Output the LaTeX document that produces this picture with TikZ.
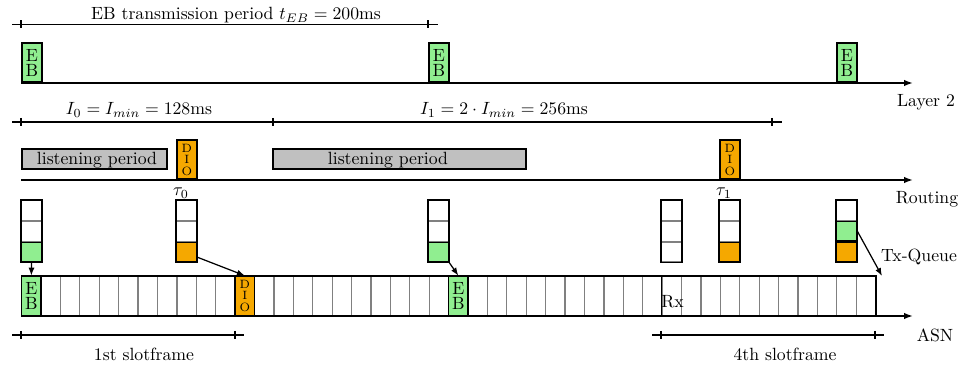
\documentclass[tikz,border=0pt]{standalone}
\usetikzlibrary{arrows.meta,calc}
\definecolor{ebgreen}{RGB}{144,238,144}
\definecolor{dioorange}{RGB}{245,168,0}
\definecolor{lpgray}{RGB}{192,192,192}
\begin{document}
\begin{tikzpicture}[x=0.565pt,y=-0.565pt,
  axis/.style={line width=0.9pt,-{Latex[length=5pt,width=3.6pt]}},
  dimline/.style={line width=0.9pt},
  ebbox/.style={draw,line width=0.9pt,fill=ebgreen,minimum width=11.3pt,minimum height=22pt,
    inner sep=0pt,align=center,font=\fontsize{10}{8.5}\selectfont},
  diobox/.style={draw,line width=0.9pt,fill=dioorange,minimum width=11.3pt,minimum height=22pt,
    inner sep=0pt,align=center,font=\fontsize{6.8}{6.6}\selectfont},
  lpbox/.style={draw,line width=0.6pt,fill=lpgray},
  qcell/.style={draw=gray,line width=0.7pt,minimum width=11.3pt,minimum height=11.1pt,inner sep=0pt},
  qfill/.style={draw,line width=0.9pt,minimum width=11.3pt,minimum height=11.1pt,inner sep=0pt},
  slotcell/.style={draw=gray,line width=0.7pt,minimum width=10.97pt,minimum height=22pt,inner sep=0pt},
  txarrow/.style={line width=0.7pt,-{Latex[length=4.5pt,width=3.4pt]}},
  lbl/.style={anchor=base,inner sep=0pt},
]
\useasboundingbox (0,0) rectangle (980,368);

% ---------- EB transmission period ----------
\coordinate (ebd0) at (12,24.5);
\coordinate (ebd1) at (438,24.5);
\draw[dimline] (ebd0) -- (ebd1);
\foreach \x in {21,428} \draw[dimline] (\x,20.5) -- (\x,28.5);
\node[lbl] (ebtxt) at (236,19.5) {EB transmission period $t_{EB}=200$ms};

% ---------- Layer 2 ----------
\coordinate (l2s) at (21,83);
\coordinate (l2e) at (913,83);
\draw[axis] (l2s) -- (l2e);
\node[ebbox,anchor=south west] (eb1) at (21,83) {E\\B};
\node[ebbox,anchor=south west] (eb2) at (428,83) {E\\B};
\node[ebbox,anchor=south west] (eb3) at (836,83) {E\\B};
\node[lbl] (layer2) at (926,107) {Layer 2};

% ---------- Trickle intervals ----------
\coordinate (id0) at (12,122);
\coordinate (id1) at (782,122);
\draw[dimline] (id0) -- (id1);
\foreach \x in {21,273,772} \draw[dimline] (\x,118) -- (\x,126);
\node[lbl] (i0) at (139,115) {$I_0 = I_{min} = 128$ms};
\node[lbl] (i1) at (504,115) {$I_1 = 2\cdot I_{min} = 256$ms};

% ---------- Routing ----------
\draw[lpbox] (22,149) rectangle (167,169);
\draw[lpbox] (273,149) rectangle (526,169);
\node[lbl] (lp1) at (97,165) {listening period};
\node[lbl] (lp2) at (388,165) {listening period};
\coordinate (rts) at (21,180);
\coordinate (rte) at (913,180);
\draw[axis] (rts) -- (rte);
\node[diobox,anchor=south west] (dio1) at (176,180) {D\\I\\O};
\node[diobox,anchor=south west] (dio2) at (719,180) {D\\I\\O};
\node[lbl] (tau0) at (181,196) {$\tau_0$};
\node[lbl] (tau1) at (724,196) {$\tau_1$};
\node[lbl] (routing) at (927,204) {Routing};

% ---------- Tx queues ----------
\foreach \n/\x in {1/21,2/176,3/428,4/661,5/719,6/836}{
  \node[qcell,anchor=north west] (q\n-a) at (\x,200) {};
  \node[qcell,anchor=north] (q\n-b) at (q\n-a.south) {};
  \node[qcell,anchor=north] (q\n-c) at (q\n-b.south) {};
  \draw[line width=0.9pt] (q\n-a.north west) rectangle (q\n-c.south east);
}
\node[qfill,fill=ebgreen] (q1f) at (q1-c) {};
\node[qfill,fill=dioorange] (q2f) at (q2-c) {};
\node[qfill,fill=ebgreen] (q3f) at (q3-c) {};
\node[qfill,fill=dioorange] (q5f) at (q5-c) {};
\node[qfill,fill=dioorange] (q6f) at (q6-c) {};
\node[qfill,fill=ebgreen] (q6g) at (q6-b) {};
\node[lbl] (txq) at (919,262) {Tx-Queue};

% ---------- ASN slots ----------
\foreach \i in {0,...,43}
  \node[slotcell,anchor=south west] (s\i) at ({21+\i*19.409},316) {};
\draw[line width=0.9pt] (s0.north west) -- (s43.north east) -- (s43.south east);
\draw[line width=0.9pt] (s33.north west) -- (s33.south west);
\coordinate (asne) at (913,316);
\draw[axis] (s0.south west) -- (asne);
\node[ebbox,minimum width=10.97pt] (a0) at (s0) {E\\B};
\node[diobox,minimum width=10.97pt] (a11) at (s11) {D\\I\\O};
\node[ebbox,minimum width=10.97pt] (a22) at (s22) {E\\B};
\node[anchor=base west,inner sep=0pt] (rx) at (661,308) {Rx};
\node[lbl] (asn) at (935,342) {ASN};

% ---------- queue to slot ----------
\coordinate (nextslot) at (882,276);
\draw[txarrow] (q1f.south) -- (a0.north);
\draw[txarrow] (q2f.-25) -- (a11.north);
\draw[txarrow] (q3f.south east) -- (a22.north);
\draw[txarrow] (q6g.east) -- (nextslot);

% ---------- slotframes ----------
\draw[dimline] (12,335) -- (244,335);
\foreach \x in {21,235} \draw[dimline] (\x,331) -- (\x,339);
\node[lbl] (sf1) at (144,361) {1st slotframe};
\draw[dimline] (652,335) -- (884,335);
\foreach \x in {661,875} \draw[dimline] (\x,331) -- (\x,339);
\node[lbl] (sf4) at (785,361) {4th slotframe};
\end{tikzpicture}
\end{document}
